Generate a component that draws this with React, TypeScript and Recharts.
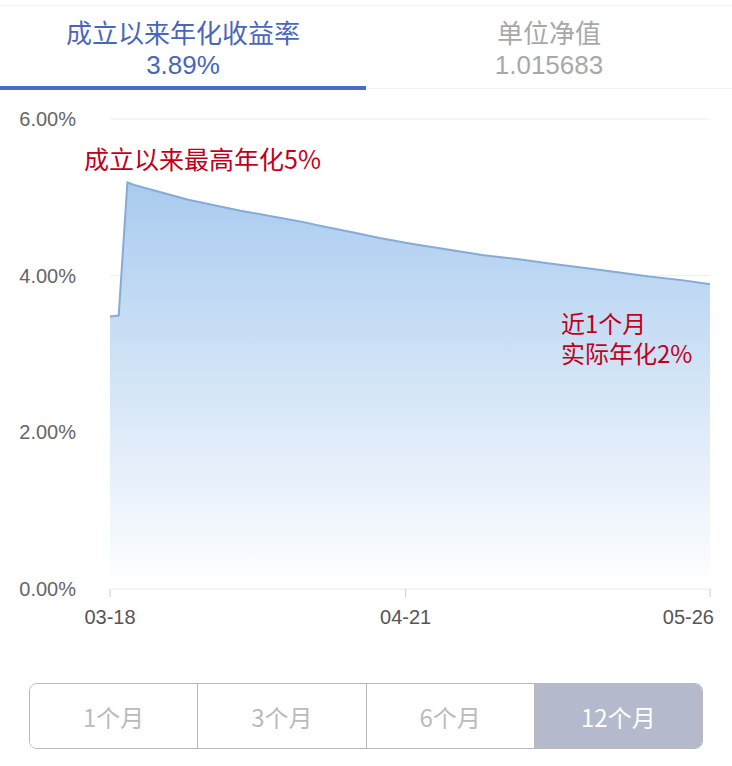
import { Area, AreaChart, CartesianGrid, XAxis, YAxis } from "recharts"

// dates (2019) and annualised yield (%)
const dates = [
  "03-18", "03-19", "03-20", "03-21", "03-23", "03-25", "03-27", "03-30",
  "04-02", "04-06", "04-09", "04-11", "04-15", "04-18", "04-21", "04-22",
  "04-26", "04-30", "05-04", "05-08", "05-13", "05-19", "05-23", "05-26",
]
const rates = [
  3.48, 3.49, 5.19, 5.15, 5.09, 5.03, 4.97, 4.9,
  4.83, 4.75, 4.69, 4.64, 4.55, 4.48, 4.42, 4.4,
  4.33, 4.26, 4.21, 4.15, 4.08, 3.99, 3.94, 3.89,
]
const tickLabels = ["03-18", "04-21", "05-26"]
const yTicks = [0, 2, 4, 6]
const periods = ["1个月", "3个月", "6个月", "12个月"]

const dayOf = (md: string) => {
  const [m, d] = md.split("-").map(Number)
  return (Date.UTC(2019, m - 1, d) - Date.UTC(2019, 2, 18)) / 86400000
}

const data = dates.map((d, i) => ({ day: dayOf(d), date: d, rate: rates[i] }))
const xTicks = tickLabels.map(dayOf)

const font = "'Liberation Sans', 'Noto Sans CJK SC', sans-serif"
const cjk = "'Noto Sans CJK SC', 'Liberation Sans', sans-serif"

// last label sits right-aligned so it stays inside the page
const DateTick = (props: any) => {
  const { x, y, payload, index } = props
  const last = index === xTicks.length - 1
  return (
    <text
      x={last ? x + 4 : x}
      y={y}
      dy="0.71em"
      textAnchor={last ? "end" : "middle"}
      fill="#555"
      fontSize={20}
      fontFamily={font}
    >
      {tickLabels[xTicks.indexOf(payload.value)]}
    </text>
  )
}

export default function App() {
  return (
    <div
      style={{
        position: "absolute",
        left: 0,
        top: 0,
        width: 732,
        height: 766,
        background: "#fff",
        fontFamily: cjk,
        overflow: "hidden",
      }}
    >
      <div style={{ position: "absolute", left: 0, top: 5, width: 732, height: 1, background: "#f2f2f2" }} />
      {/* tabs */}
      <div style={{ position: "absolute", left: 0, top: 14, width: 366, textAlign: "center", color: "#4a66bb" }}>
        <div style={{ fontSize: 26, lineHeight: "36px" }}>成立以来年化收益率</div>
        <div style={{ fontSize: 26, lineHeight: "30px", fontFamily: font }}>3.89%</div>
      </div>
      <div style={{ position: "absolute", left: 366, top: 14, width: 366, textAlign: "center", color: "#a8a8a8" }}>
        <div style={{ fontSize: 26, lineHeight: "36px" }}>单位净值</div>
        <div style={{ fontSize: 26, lineHeight: "30px", fontFamily: font }}>1.015683</div>
      </div>
      <div style={{ position: "absolute", left: 0, top: 86, width: 366, height: 4, background: "#4a6bc8" }} />
      <div style={{ position: "absolute", left: 366, top: 88, width: 366, height: 1, background: "#f2f2f2" }} />

      {/* chart */}
      <div style={{ position: "absolute", left: 0, top: 100 }}>
        <AreaChart width={732} height={540} data={data} margin={{ top: 19, right: 22, left: 0, bottom: 0 }}>
          <defs>
            <linearGradient id="fillRate" x1="0" y1="0" x2="0" y2="1">
              <stop offset="0%" stopColor="#a9cbef" stopOpacity={1} />
              <stop offset="100%" stopColor="#ffffff" stopOpacity={1} />
            </linearGradient>
          </defs>
          <CartesianGrid vertical={false} stroke="#eeeeee" />
          <XAxis
            dataKey="day"
            type="number"
            domain={[0, 69]}
            ticks={xTicks}
            height={51}
            tickSize={8}
            tickMargin={13}
            tickLine={{ stroke: "#cccccc" }}
            axisLine={{ stroke: "#eeeeee" }}
            tick={<DateTick />}
          />
          <YAxis
            domain={[0, 6]}
            ticks={yTicks}
            width={110}
            axisLine={false}
            tickLine={false}
            tickMargin={28}
            tickFormatter={(v) => `${v.toFixed(2)}%`}
            tick={{ fill: "#666", fontSize: 20, fontFamily: font }}
          />
          <Area
            type="linear"
            dataKey="rate"
            stroke="#86abd7"
            strokeWidth={2}
            fill="url(#fillRate)"
            fillOpacity={1}
            isAnimationActive={false}
          />
        </AreaChart>
      </div>

      {/* annotations */}
      <div style={{ position: "absolute", left: 84, top: 144, color: "#c0001a", fontSize: 25, lineHeight: "28px" }}>
        成立以来最高年化5%
      </div>
      <div style={{ position: "absolute", left: 561, top: 308, color: "#c0001a", fontSize: 24, lineHeight: "30px" }}>
        近1个月
        <br />
        实际年化2%
      </div>

      {/* period switch */}
      <div
        style={{
          position: "absolute",
          left: 29,
          top: 683,
          width: 672,
          height: 64,
          border: "1.5px solid #b8b8b8",
          borderRadius: 8,
          display: "flex",
          overflow: "hidden",
        }}
      >
        {periods.map((p, i) => (
          <div
            key={p}
            style={{
              flex: 1,
              borderLeft: i === 0 ? "none" : "1.5px solid #b8b8b8",
              background: i === periods.length - 1 ? "#b4b9cc" : "#fff",
              color: i === periods.length - 1 ? "#fff" : "#bbbbbb",
              fontSize: 24,
              display: "flex",
              alignItems: "center",
              justifyContent: "center",
            }}
          >
            {p}
          </div>
        ))}
      </div>
    </div>
  )
}
